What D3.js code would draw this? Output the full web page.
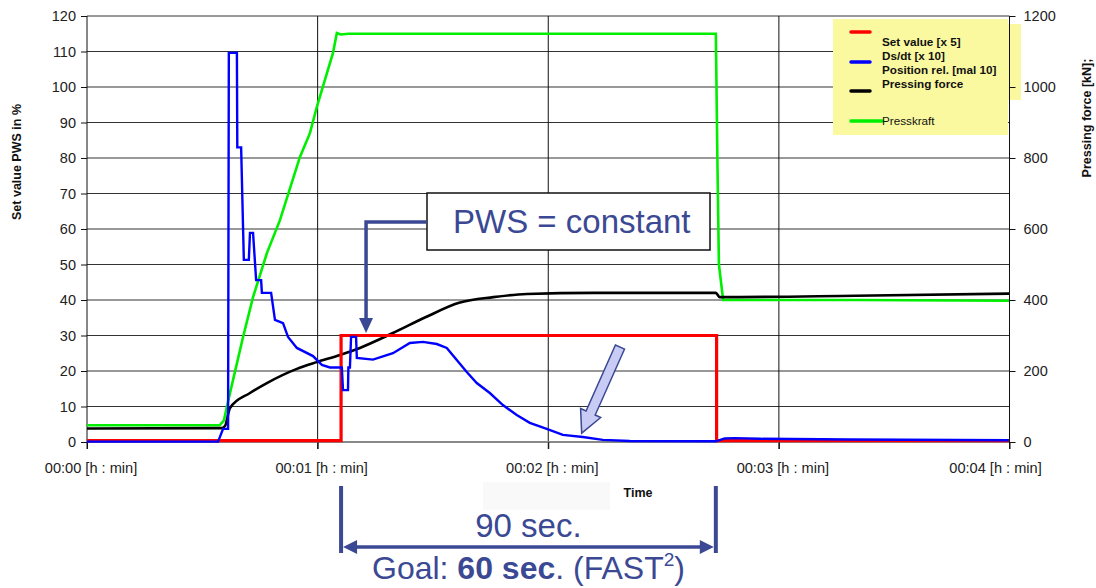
<!DOCTYPE html>
<html><head><meta charset="utf-8">
<script src="https://cdn.jsdelivr.net/npm/d3@7"></script>
<style>
html,body{margin:0;padding:0;background:#fff;}
svg{display:block;font-family:"Liberation Sans",Arial,sans-serif;}
</style></head>
<body>
<svg id="chart" width="1096" height="588"></svg>
<script>
// ---- data (time in seconds) ----
const xTicks = [0, 60, 120, 180, 240];
const xTickLabels = ["00:00 [h : min]", "00:01 [h : min]", "00:02 [h : min]", "00:03 [h : min]", "00:04 [h : min]"];
const leftTicks = [0,10,20,30,40,50,60,70,80,90,100,110,120];
const rightTicks = [0,200,400,600,800,1000,1200];

// Set value [x 5]  (left axis, %)
const setValue = [[0,0.4],[66.1,0.4],[66.1,30],[163.8,30],[163.8,0.4],[240,0.4]];

// Ds/dt [x 10] / Position rel. (left axis, %)
const dsdt = [[0,0.1],[34.1,0.1],[35.4,3.7],[36.7,3.7],[36.9,109.6],[39.0,109.6],[39.1,83],[40.1,83],
  [40.8,51.3],[42.1,51.3],[42.4,58.9],[43.2,58.9],[44.0,45.6],[45.3,45.6],[45.5,42],[47.9,42],
  [48.9,34.4],[51.0,33.5],[52.3,29.6],[54.6,26.5],[58.8,24.2],[61.1,21.7],[63.2,21],[66.3,21],
  [66.6,14.6],[67.9,14.6],[68.0,21],[68.4,21],[68.7,29.6],[70.0,29.6],[70.2,23.7],[74.4,23.2],
  [79.6,25],[84.0,27.9],[87.4,28.2],[91.0,27.6],[93.6,26.5],[96.2,23.1],[98.8,19.7],[101.4,16.6],
  [104.8,13.8],[108.2,10.4],[111.8,7.6],[115.2,5.4],[119.6,3.7],[123.8,2.0],[129.0,1.4],[134.2,0.6],
  [141.2,0.3],[163.6,0.2],[165.9,1.0],[168.5,1.1],[175,0.9],[198.4,0.7],[239.8,0.5]];

// Pressing force (right axis, kN)
const pressingForce = [[0,38],[35,39],[35.9,45],[37.2,96],[42.4,138],[46.8,166],[54.6,206],[59.8,225],
  [65.8,245],[71,265],[79.6,307],[88.2,352],[96.8,392],[105.7,408],[114.4,417],[131.8,420],
  [163.6,420],[164.6,408],[200,412],[240,418]];

// Presskraft (right axis, kN)
const presskraft = [[0,47],[34.5,47],[35.6,60],[36.6,110],[38,175],[40.6,296],[43.2,408],[46.8,532],
  [50.2,625],[55.4,803],[58,870],[59.8,944],[61.9,1020],[64,1096],[65,1152],[66,1148],[68,1150],
  [100,1150],[163.6,1150],[164.0,800],[164.4,500],[165.5,400],[200,400],[240,398]];

const legendLabels = ["Set value [x 5]","Ds/dt [x 10]","Position rel. [mal 10]","Pressing force","Presskraft"];

// ---- layout ----
const svg = d3.select("#chart");
const X0 = 87, X1 = 1009.5, Y0 = 442, Y1 = 16;
const x = d3.scaleLinear().domain([0,240]).range([X0,X1]);
const y = d3.scaleLinear().domain([0,120]).range([Y0,Y1]);
const yR = d3.scaleLinear().domain([0,1200]).range([Y0,Y1]);

// horizontal grid
svg.append("g").selectAll("line").data(leftTicks.filter(d=>d>0)).join("line")
  .attr("x1",X0).attr("x2",X1).attr("y1",d=>y(d)).attr("y2",d=>y(d))
  .attr("stroke","#333").attr("stroke-width",1);
// vertical grid
svg.append("g").selectAll("line").data(xTicks.slice(1,4)).join("line")
  .attr("x1",d=>x(d)).attr("x2",d=>x(d)).attr("y1",Y1).attr("y2",Y0+7)
  .attr("stroke","#111").attr("stroke-width",1);

// faint box behind Time
svg.append("rect").attr("x",483).attr("y",482).attr("width",127).attr("height",28).attr("fill","#f9f9f9");

// x axis baseline
svg.append("line").attr("x1",X0).attr("x2",X1).attr("y1",Y0).attr("y2",Y0).attr("stroke","#888").attr("stroke-width",2);

// axes
const axL = svg.append("g").attr("transform",`translate(${X0},0)`)
  .call(d3.axisLeft(y).tickValues(leftTicks).tickSize(6).tickPadding(5).tickFormat(d3.format("d")));
const axR = svg.append("g").attr("transform",`translate(${X1},0)`)
  .call(d3.axisRight(yR).tickValues(rightTicks).tickSize(6).tickPadding(8).tickFormat(d3.format("d")));
const axB = svg.append("g").attr("transform",`translate(0,${Y0})`)
  .call(d3.axisBottom(x).tickValues(xTicks).tickSize(7).tickPadding(20).tickFormat((d,i)=>xTickLabels[i]));
[axL,axR,axB].forEach(a=>{
  a.select(".domain").attr("stroke","#111");
  a.selectAll(".tick line").attr("stroke","#111");
  a.selectAll("text").attr("font-size",14.5).attr("fill","#222").attr("font-family","Liberation Sans, Arial, sans-serif");
});
axB.select(".domain").attr("stroke","none");
axL.select(".domain").attr("d",`M0,${Y1}V${Y0+7}`);
axR.select(".domain").attr("d",`M0,${Y1}V${Y0+7}`);
axB.selectAll("text").attr("font-size",14.6).attr("dy",0).attr("y",31)
  .attr("dx",(d,i)=> i===xTicks.length-1 ? -14.5 : 3.5);

// series
const lineL = d3.line().x(d=>x(d[0])).y(d=>y(d[1]));
const lineR = d3.line().x(d=>x(d[0])).y(d=>yR(d[1]));
svg.append("path").datum(presskraft).attr("d",lineR).attr("fill","none").attr("stroke","#00ee00").attr("stroke-width",2.6);
svg.append("path").datum(pressingForce).attr("d",lineR.curve(d3.curveMonotoneX)).attr("fill","none").attr("stroke","#000").attr("stroke-width",2.6);
svg.append("path").datum(setValue).attr("d",lineL).attr("fill","none").attr("stroke","#ff0000").attr("stroke-width",3.2);
svg.append("path").datum(dsdt).attr("d",lineL).attr("fill","none").attr("stroke","#0000ff").attr("stroke-width",2.4);

// legend
const lg = svg.append("g");
lg.append("rect").attr("x",833).attr("y",24).attr("width",188).attr("height",76).attr("fill","#fbf9a0");
lg.append("rect").attr("x",833).attr("y",19).attr("width",175).attr("height",116).attr("fill","#fbf9a0");
const legLines = [[32,"#ff0000",870],[62,"#0000ff",870],[91,"#000",870],[121,"#00ee00",882]];
lg.selectAll("line").data(legLines).join("line")
  .attr("x1",851).attr("x2",d=>d[2]).attr("y1",d=>d[0]).attr("y2",d=>d[0])
  .attr("stroke",d=>d[1]).attr("stroke-width",3.5).attr("stroke-linecap","round");
const legY = [46,60,74,88,125];
lg.selectAll("text").data(legendLabels).join("text")
  .attr("x",882).attr("y",(d,i)=>legY[i]).text(d=>d)
  .attr("font-size",11.7).attr("font-weight",(d,i)=>i<4?"bold":"normal").attr("fill","#111");
// redraw right tick labels on top
axR.raise();

// axis titles
svg.append("text").attr("transform","translate(21,162) rotate(-90)").attr("text-anchor","middle")
  .attr("font-size",12.5).attr("font-weight","bold").attr("fill","#111").text("Set value PWS in %");
svg.append("text").attr("transform","translate(1091,118) rotate(-90)").attr("text-anchor","middle")
  .attr("font-size",12.5).attr("font-weight","bold").attr("fill","#111").text("Pressing force [kN];");
svg.append("text").attr("x",638).attr("y",497).attr("text-anchor","middle")
  .attr("font-size",12.5).attr("font-weight","bold").attr("fill","#111").text("Time");

// annotation: PWS = constant
const AC = "#3b4994";
svg.append("rect").attr("x",427).attr("y",193).attr("width",283).attr("height",57)
  .attr("fill","#fff").attr("stroke","#111").attr("stroke-width",1.5);
svg.append("text").attr("x",453).attr("y",233).attr("font-size",33).attr("fill",AC).text("PWS = constant");
const tipX = x(72.6), tipY = y(30.7);
svg.append("path").attr("d",`M427,222H${tipX}V${tipY-14}`).attr("fill","none").attr("stroke",AC).attr("stroke-width",3.5);
svg.append("path").attr("d",`M${tipX-7},${tipY-15}L${tipX+7},${tipY-15}L${tipX},${tipY}Z`).attr("fill",AC);

// hollow arrow pointing to tail of blue curve
(function(){
  const tx = x(128.7), ty = y(2.5), sx = 620, sy = 347;
  const ang = Math.atan2(ty-sy, tx-sx), L = Math.hypot(tx-sx, ty-sy);
  const hw = 5, hh = 11, hl = 22;
  const pts = [[0,-hw],[L-hl,-hw],[L-hl,-hh],[L,0],[L-hl,hh],[L-hl,hw],[0,hw]];
  const c = Math.cos(ang), s = Math.sin(ang);
  const p = pts.map(([a,b])=>[sx + a*c - b*s, sy + a*s + b*c]);
  svg.append("path").attr("d","M"+p.map(q=>q.join(",")).join("L")+"Z")
    .attr("fill","#c8ccf4").attr("stroke",AC).attr("stroke-width",1.5);
})();

// bottom bracket: 90 sec
const bx0 = x(66.1), bx1 = x(163.6), by = 547;
svg.append("line").attr("x1",bx0).attr("x2",bx0).attr("y1",486).attr("y2",553).attr("stroke",AC).attr("stroke-width",4);
svg.append("line").attr("x1",bx1).attr("x2",bx1).attr("y1",486).attr("y2",553).attr("stroke",AC).attr("stroke-width",4);
svg.append("line").attr("x1",bx0+14).attr("x2",bx1-14).attr("y1",by).attr("y2",by).attr("stroke",AC).attr("stroke-width",3.5);
svg.append("path").attr("d",`M${bx0+2},${by}L${bx0+16},${by-7}L${bx0+16},${by+7}Z`).attr("fill",AC);
svg.append("path").attr("d",`M${bx1-2},${by}L${bx1-16},${by-7}L${bx1-16},${by+7}Z`).attr("fill",AC);
svg.append("text").attr("x",(bx0+bx1)/2).attr("y",537).attr("text-anchor","middle")
  .attr("font-size",33).attr("fill",AC).text("90 sec.");
const g2 = svg.append("text").attr("x",(bx0+bx1)/2).attr("y",579).attr("text-anchor","middle")
  .attr("font-size",32).attr("fill",AC);
g2.append("tspan").text("Goal: ");
g2.append("tspan").attr("font-weight","bold").text("60 sec");
g2.append("tspan").text(". (FAST");
g2.append("tspan").attr("font-size",19).attr("dy",-13).text("2");
g2.append("tspan").attr("dy",13).text(")");
</script>
</body></html>
